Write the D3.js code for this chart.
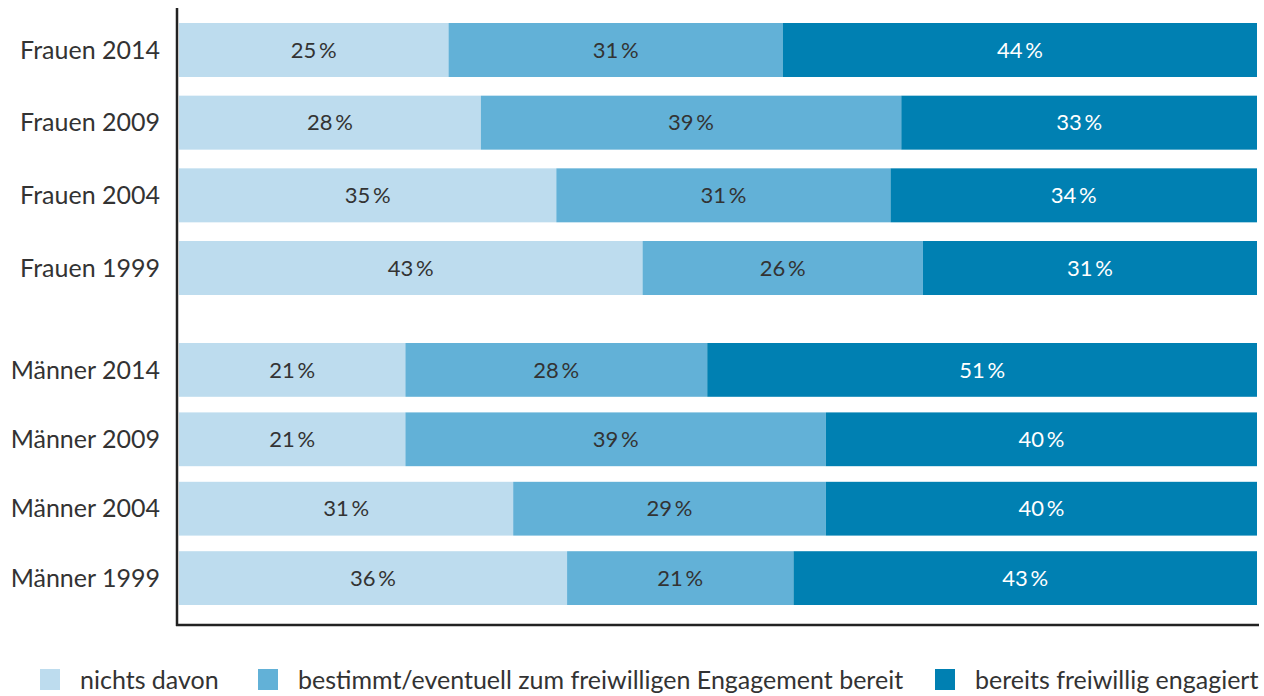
<!DOCTYPE html>
<html>
<head>
<meta charset="utf-8">
<script src="https://cdn.jsdelivr.net/npm/d3@7"></script>
<style>
  body { margin: 0; background: #fff; }
  text { font-family: Lato, "Open Sans", sans-serif; }
</style>
</head>
<body>
<div id="chart"></div>
<script>
// Data
const frauen = ["Frauen 2014", "Frauen 2009", "Frauen 2004", "Frauen 1999"];
const maenner = ["Männer 2014", "Männer 2009", "Männer 2004", "Männer 1999"];
const categories = frauen.concat(maenner);
const nichts   = [25, 28, 35, 43, 21, 21, 31, 36];
const bereit   = [31, 39, 31, 26, 28, 39, 29, 21];
const engagiert = [44, 33, 34, 31, 51, 40, 40, 43];
const seriesNames = ["nichts davon",
                     "bestimmt/eventuell zum freiwilligen Engagement bereit",
                     "bereits freiwillig engagiert"];
const colors = ["#bddcee", "#62b1d7", "#0080b2"];

const width = 1264, height = 696;
const left = 179, right = 1257;

const rows = categories.map((c, i) => ({ cat: c, values: [nichts[i], bereit[i], engagiert[i]] }));

const svg = d3.select("#chart").append("svg")
    .attr("width", width)
    .attr("height", height);

const x = d3.scaleLinear().domain([0, 100]).range([left, right]);

// two blocks, Frauen on top and Männer below
const yF = d3.scaleBand().domain(frauen).range([23, 295]).paddingInner(0.257).paddingOuter(0);
const yM = d3.scaleBand().domain(maenner).range([343, 605]).paddingInner(0.225).paddingOuter(0);
const y = c => frauen.includes(c) ? yF(c) : yM(c);
const bw = c => frauen.includes(c) ? yF.bandwidth() : yM.bandwidth();

const stack = d3.stack().keys([0, 1, 2]).value((d, k) => d.values[k]);
const layers = stack(rows);

const fmt = v => v + "\u2009%";

layers.forEach((layer, k) => {
  const g = svg.append("g");
  g.selectAll("rect")
    .data(layer)
    .join("rect")
    .attr("x", d => x(d[0]))
    .attr("y", d => y(d.data.cat))
    .attr("width", d => x(d[1]) - x(d[0]))
    .attr("height", d => bw(d.data.cat))
    .attr("fill", colors[k]);

  g.selectAll("text")
    .data(layer)
    .join("text")
    .attr("x", d => (x(d[0]) + x(d[1])) / 2)
    .attr("y", d => y(d.data.cat) + bw(d.data.cat) / 2)
    .attr("dy", "0.35em")
    .attr("text-anchor", "middle")
    .attr("font-size", "22px")
    .attr("fill", k === 2 ? "#ffffff" : "#333333")
    .text(d => fmt(d.data.values[k]));
});

// category labels
svg.append("g").selectAll("text")
  .data(categories)
  .join("text")
  .attr("x", 160)
  .attr("y", c => y(c) + bw(c) / 2)
  .attr("dy", "0.35em")
  .attr("text-anchor", "end")
  .attr("font-size", "25px")
  .attr("fill", "#333333")
  .text(c => c);

// axis lines
svg.append("line")
  .attr("x1", 177).attr("x2", 177)
  .attr("y1", 8).attr("y2", 626)
  .attr("stroke", "#222").attr("stroke-width", 2.5);
svg.append("line")
  .attr("x1", 176).attr("x2", 1259)
  .attr("y1", 625).attr("y2", 625)
  .attr("stroke", "#222").attr("stroke-width", 2.5);

// legend
const legendX = [40, 258, 935];
const lg = svg.append("g").selectAll("g")
  .data(seriesNames)
  .join("g")
  .attr("transform", (d, i) => `translate(${legendX[i]},669)`);
lg.append("rect")
  .attr("width", 20).attr("height", 21)
  .attr("fill", (d, i) => colors[i]);
lg.append("text")
  .attr("x", 40).attr("y", 11)
  .attr("dy", "0.35em")
  .attr("font-size", "25px")
  .attr("fill", "#333333")
  .text(d => d);
</script>
</body>
</html>
